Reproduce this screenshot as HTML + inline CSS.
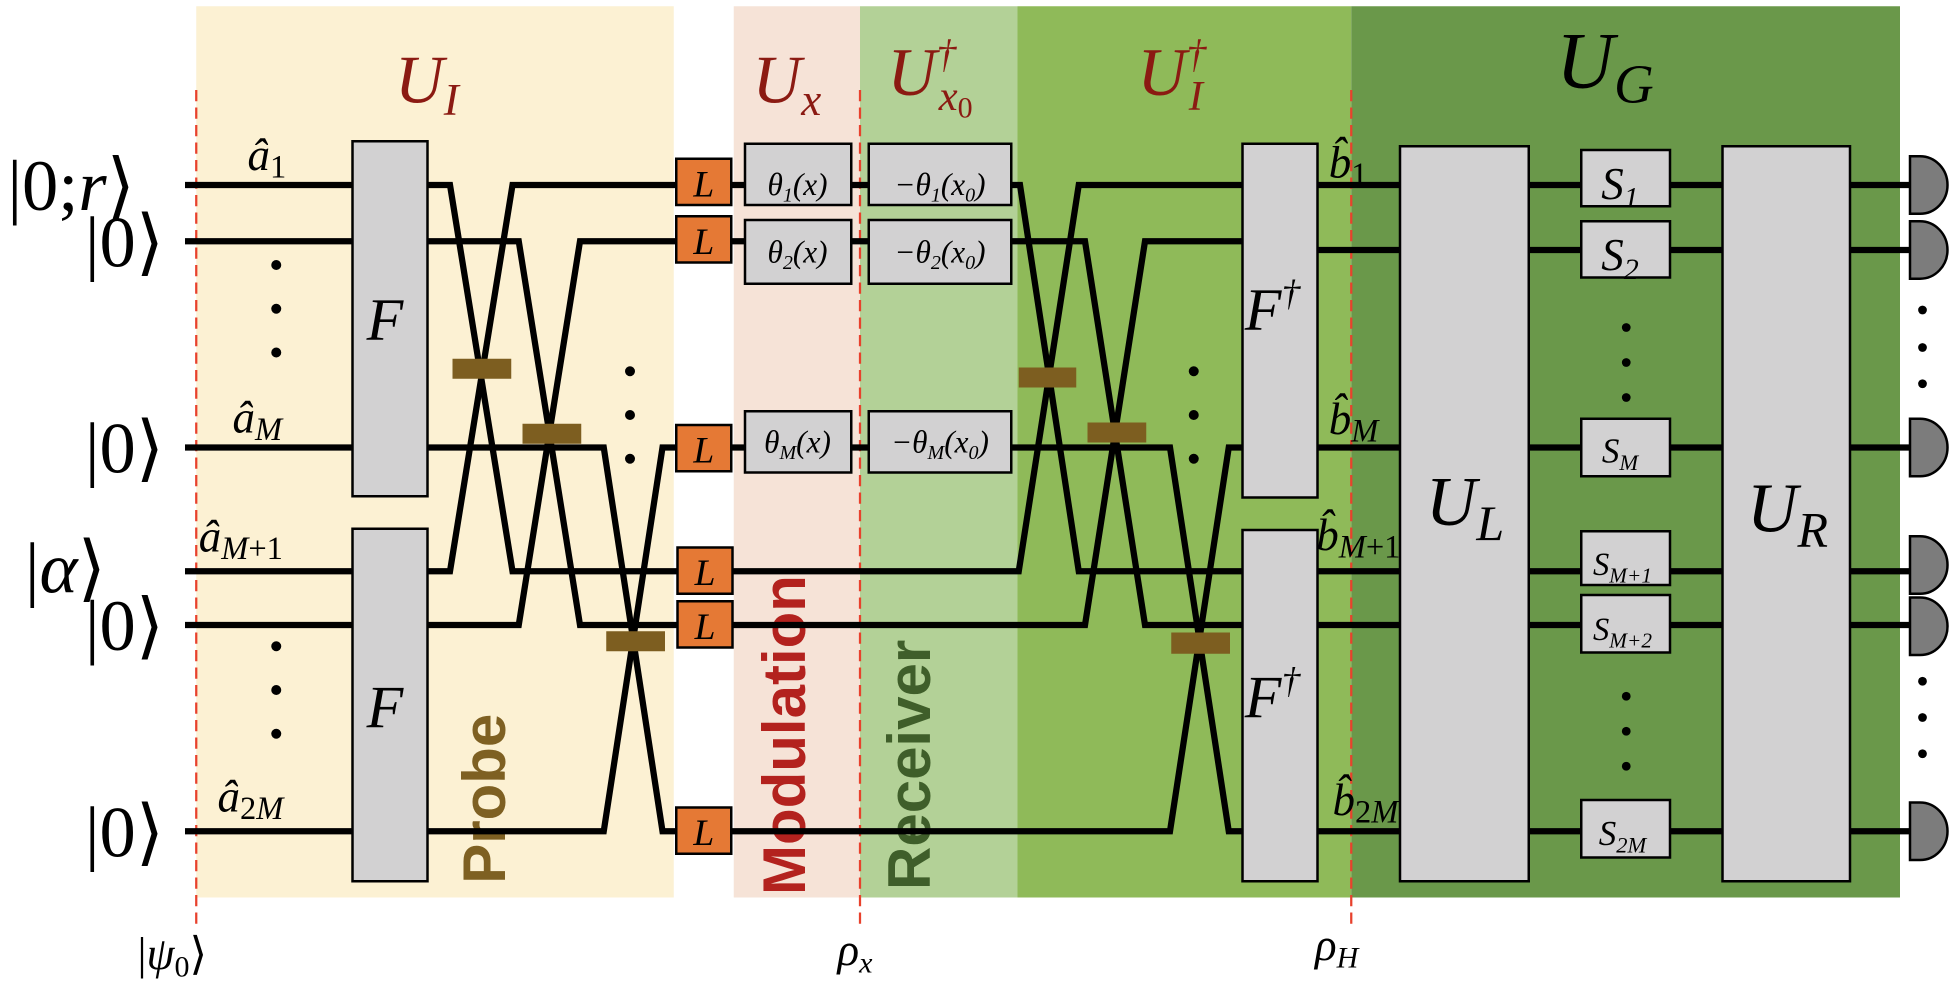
<!DOCTYPE html>
<html><head><meta charset="utf-8"><style>
html,body{margin:0;padding:0;background:#fff;}
svg{display:block;}
.m{font-family:"Liberation Serif",serif;font-style:italic;}
.r{font-family:"Liberation Serif",serif;}
.v{font-family:"Liberation Sans",sans-serif;font-weight:bold;}
</style></head><body>
<svg width="1960" height="990" viewBox="0 0 1568 792" xmlns="http://www.w3.org/2000/svg">
<rect x="0" y="0" width="1568" height="792" fill="#fff"/>
<rect x="157" y="5" width="382" height="713" fill="#fcf1d3"/>
<rect x="587" y="5" width="101" height="713" fill="#f6e3d7"/>
<rect x="688" y="5" width="126" height="713" fill="#b3d197"/>
<rect x="814" y="5" width="267" height="713" fill="#8fba59"/>
<rect x="1081" y="5" width="439" height="713" fill="#6a984a"/>

<g stroke="#e8412c" stroke-width="1.8" stroke-dasharray="9,5">
<line x1="157" y1="72" x2="157" y2="742"/>
<line x1="688" y1="72" x2="688" y2="742"/>
<line x1="1081" y1="72" x2="1081" y2="742"/>
</g>

<text class="v" transform="translate(404,707) rotate(-90)" font-size="48" fill="#7e6022">Probe</text>
<text class="v" transform="translate(644,716) rotate(-90)" font-size="48" fill="#b3221e">Modulation</text>
<text class="v" transform="translate(744,712) rotate(-90)" font-size="48" fill="#3f5e2a">Receiver</text>

<g stroke="#000" stroke-width="5" fill="none" stroke-linejoin="miter">
<polyline points="148,148 360,148 410,457 545,457"/>
<polyline points="148,457 360,457 410,148 545,148"/>
<polyline points="148,193 415,193 464,500 545,500"/>
<polyline points="148,500 415,500 464,193 545,193"/>
<polyline points="148,358 483,358 530,665 545,665"/>
<polyline points="148,665 483,665 530,358 545,358"/>
<line x1="585" y1="148" x2="596" y2="148"/>
<line x1="585" y1="193" x2="596" y2="193"/>
<line x1="585" y1="358" x2="596" y2="358"/>
<line x1="681" y1="148" x2="695" y2="148"/>
<line x1="681" y1="193" x2="695" y2="193"/>
<line x1="681" y1="358" x2="695" y2="358"/>
<polyline points="809,148 816,148 863,457 994,457"/>
<polyline points="585,457 815,457 863,148 994,148"/>
<polyline points="809,193 868,193 916,500 994,500"/>
<polyline points="585,500 868,500 916,193 994,193"/>
<polyline points="809,358 936,358 983,665 994,665"/>
<polyline points="585,665 936,665 983,358 994,358"/>
<line x1="1054" y1="148" x2="1530" y2="148"/>
<line x1="1054" y1="200" x2="1530" y2="200"/>
<line x1="1054" y1="358" x2="1530" y2="358"/>
<line x1="1054" y1="457" x2="1530" y2="457"/>
<line x1="1054" y1="500" x2="1530" y2="500"/>
<line x1="1054" y1="665" x2="1530" y2="665"/>
</g>

<g fill="#7d5e20">
<rect x="362" y="287" width="47" height="16"/>
<rect x="418" y="339" width="47" height="16"/>
<rect x="485" y="505" width="47" height="16"/>
<rect x="815" y="294" width="46" height="16"/>
<rect x="870" y="338" width="47" height="16"/>
<rect x="937" y="506" width="47" height="17"/>
</g>

<g fill="#d2d1d2" stroke="#000" stroke-width="2">
<rect x="282" y="113" width="60" height="284"/>
<rect x="282" y="423" width="60" height="282"/>
<rect x="994" y="115" width="60" height="283"/>
<rect x="994" y="424" width="60" height="281"/>
<rect x="1120" y="117" width="103" height="588"/>
<rect x="1378" y="117" width="102" height="588"/>
<rect x="1265" y="120" width="71" height="45"/>
<rect x="1265" y="177" width="71" height="45"/>
<rect x="1265" y="335" width="71" height="46"/>
<rect x="1265" y="425" width="71" height="43"/>
<rect x="1265" y="476" width="71" height="46"/>
<rect x="1265" y="640" width="71" height="46"/>
<rect x="596" y="115" width="85" height="49"/>
<rect x="596" y="176" width="85" height="51"/>
<rect x="596" y="329" width="85" height="49"/>
<rect x="695" y="115" width="114" height="49"/>
<rect x="695" y="176" width="114" height="51"/>
<rect x="695" y="329" width="114" height="49"/>
</g>
<g fill="#e57935" stroke="#000" stroke-width="2">
<rect x="541" y="127" width="44" height="37"/>
<rect x="541" y="173" width="44" height="37"/>
<rect x="541" y="340" width="44" height="37"/>
<rect x="542" y="438" width="44" height="37"/>
<rect x="542" y="481" width="44" height="37"/>
<rect x="541" y="646" width="44" height="37"/>
</g>
<g class="m" font-size="30" text-anchor="middle" fill="#000">
<text x="563" y="157">L</text><text x="563" y="203">L</text><text x="563" y="370">L</text>
<text x="564" y="468">L</text><text x="564" y="511">L</text><text x="563" y="676">L</text>
</g>
<g class="m" font-size="25" text-anchor="middle">
<text x="638" y="156"><tspan>θ</tspan><tspan font-size="16" dy="5">1</tspan><tspan font-size="25" dy="-5">(x)</tspan></text>
<text x="638" y="210"><tspan>θ</tspan><tspan font-size="16" dy="5">2</tspan><tspan font-size="25" dy="-5">(x)</tspan></text>
<text x="638" y="362"><tspan>θ</tspan><tspan font-size="16" dy="5">M</tspan><tspan font-size="25" dy="-5">(x)</tspan></text>
<text x="752" y="156"><tspan>−θ</tspan><tspan font-size="16" dy="5">1</tspan><tspan font-size="25" dy="-5">(x</tspan><tspan font-size="16" dy="5">0</tspan><tspan font-size="25" dy="-5">)</tspan></text>
<text x="752" y="210"><tspan>−θ</tspan><tspan font-size="16" dy="5">2</tspan><tspan font-size="25" dy="-5">(x</tspan><tspan font-size="16" dy="5">0</tspan><tspan font-size="25" dy="-5">)</tspan></text>
<text x="752" y="362"><tspan>−θ</tspan><tspan font-size="16" dy="5">M</tspan><tspan font-size="25" dy="-5">(x</tspan><tspan font-size="16" dy="5">0</tspan><tspan font-size="25" dy="-5">)</tspan></text>
</g>
<g class="m" font-size="48" text-anchor="middle">
<text x="308" y="272">F</text><text x="308" y="582">F</text>
<text x="1018" y="264">F<tspan font-size="30" dy="-20">†</tspan></text>
<text x="1018" y="574">F<tspan font-size="30" dy="-20">†</tspan></text>
<text x="1172" y="420" font-size="56">U<tspan font-size="40" dy="12">L</tspan></text>
<text x="1430" y="425" font-size="56">U<tspan font-size="40" dy="12">R</tspan></text>
</g>
<g class="m" text-anchor="middle">
<text x="1296" y="159" font-size="36">S<tspan font-size="24" dy="7">1</tspan></text>
<text x="1296" y="216" font-size="36">S<tspan font-size="24" dy="7">2</tspan></text>
<text x="1296" y="370" font-size="28">S<tspan font-size="18" dy="6">M</tspan></text>
<text x="1298" y="460" font-size="26">S<tspan font-size="17" dy="6">M+1</tspan></text>
<text x="1298" y="512" font-size="26">S<tspan font-size="17" dy="6">M+2</tspan></text>
<text x="1298" y="676" font-size="28">S<tspan font-size="18" dy="6">2M</tspan></text>
</g>

<g fill="#7c7c7c" stroke="#000" stroke-width="2">
<path d="M1528,125 h8 a22,23 0 0 1 0,46 h-8 z"/>
<path d="M1528,177 h8 a22,23 0 0 1 0,46 h-8 z"/>
<path d="M1528,335 h8 a22,23 0 0 1 0,46 h-8 z"/>
<path d="M1528,429 h8 a22,23 0 0 1 0,46 h-8 z"/>
<path d="M1528,478 h8 a22,23 0 0 1 0,46 h-8 z"/>
<path d="M1528,642 h8 a22,23 0 0 1 0,46 h-8 z"/>
</g>

<g fill="#000">
<circle cx="221" cy="212" r="4"/><circle cx="221" cy="247" r="4"/><circle cx="221" cy="282" r="4"/>
<circle cx="221" cy="517" r="4"/><circle cx="221" cy="552" r="4"/><circle cx="221" cy="587" r="4"/>
<circle cx="504" cy="297" r="4"/><circle cx="504" cy="332" r="4"/><circle cx="504" cy="367" r="4"/>
<circle cx="955" cy="297" r="4"/><circle cx="955" cy="332" r="4"/><circle cx="955" cy="367" r="4"/>
<circle cx="1301" cy="262" r="3.5"/><circle cx="1301" cy="290" r="3.5"/><circle cx="1301" cy="318" r="3.5"/>
<circle cx="1301" cy="557" r="3.5"/><circle cx="1301" cy="585" r="3.5"/><circle cx="1301" cy="613" r="3.5"/>
<circle cx="1538" cy="248" r="3.5"/><circle cx="1538" cy="278" r="3.5"/><circle cx="1538" cy="307" r="3.5"/>
<circle cx="1538" cy="545" r="3.5"/><circle cx="1538" cy="574" r="3.5"/><circle cx="1538" cy="603" r="3.5"/>
</g>

<g class="m" font-size="36">
<text x="198" y="136">â<tspan class="r" font-size="26" font-style="normal" dy="6">1</tspan></text>
<text x="186" y="346">â<tspan font-size="26" dy="6">M</tspan></text>
<text x="159" y="441">â<tspan font-size="26" dy="6">M</tspan><tspan class="r" font-style="normal" font-size="26">+1</tspan></text>
<text x="174" y="649">â<tspan class="r" font-style="normal" font-size="26" dy="6">2</tspan><tspan font-size="26">M</tspan></text>
<text x="1063" y="142">b̂<tspan class="r" font-style="normal" font-size="26" dy="6">1</tspan></text>
<text x="1063" y="347">b̂<tspan font-size="26" dy="6">M</tspan></text>
<text x="1053" y="440">b̂<tspan font-size="26" dy="6">M</tspan><tspan class="r" font-style="normal" font-size="26">+1</tspan></text>
<text x="1066" y="652">b̂<tspan class="r" font-style="normal" font-size="26" dy="6">2</tspan><tspan font-size="26">M</tspan></text>
</g>

<g class="r" font-size="58">
<text x="6" y="168">|0;<tspan font-style="italic">r</tspan>⟩</text>
<text x="68" y="213">|0⟩</text>
<text x="68" y="378">|0⟩</text>
<text x="20" y="474">|<tspan font-style="italic">α</tspan>⟩</text>
<text x="68" y="520">|0⟩</text>
<text x="68" y="685">|0⟩</text>
</g>
<g class="r" font-size="36">
<text x="110" y="775">|<tspan font-style="italic">ψ</tspan><tspan font-size="24" dy="6">0</tspan><tspan dy="-6">⟩</tspan></text>
<text x="670" y="772" font-style="italic">ρ<tspan font-size="24" dy="6">x</tspan></text>
<text x="1052" y="768" font-style="italic">ρ<tspan font-size="24" dy="6">H</tspan></text>
</g>

<g class="m" fill="#8b1a12" font-size="54">
<text x="316" y="82">U<tspan font-size="36" dy="10">I</tspan></text>
<text x="602" y="82">U<tspan font-size="36" dy="10">x</tspan></text>
<text x="710" y="76">U<tspan font-size="32" dy="-22">†</tspan><tspan font-size="34" dx="-14" dy="34">x</tspan><tspan class="r" font-style="normal" font-size="24" dy="6">0</tspan></text>
<text x="910" y="76">U<tspan font-size="32" dy="-22">†</tspan><tspan font-size="34" dx="-14" dy="34">I</tspan></text>
</g>
<text class="m" x="1245" y="70" font-size="64" fill="#000">U<tspan font-size="44" dy="12">G</tspan></text>
</svg>
</body></html>
